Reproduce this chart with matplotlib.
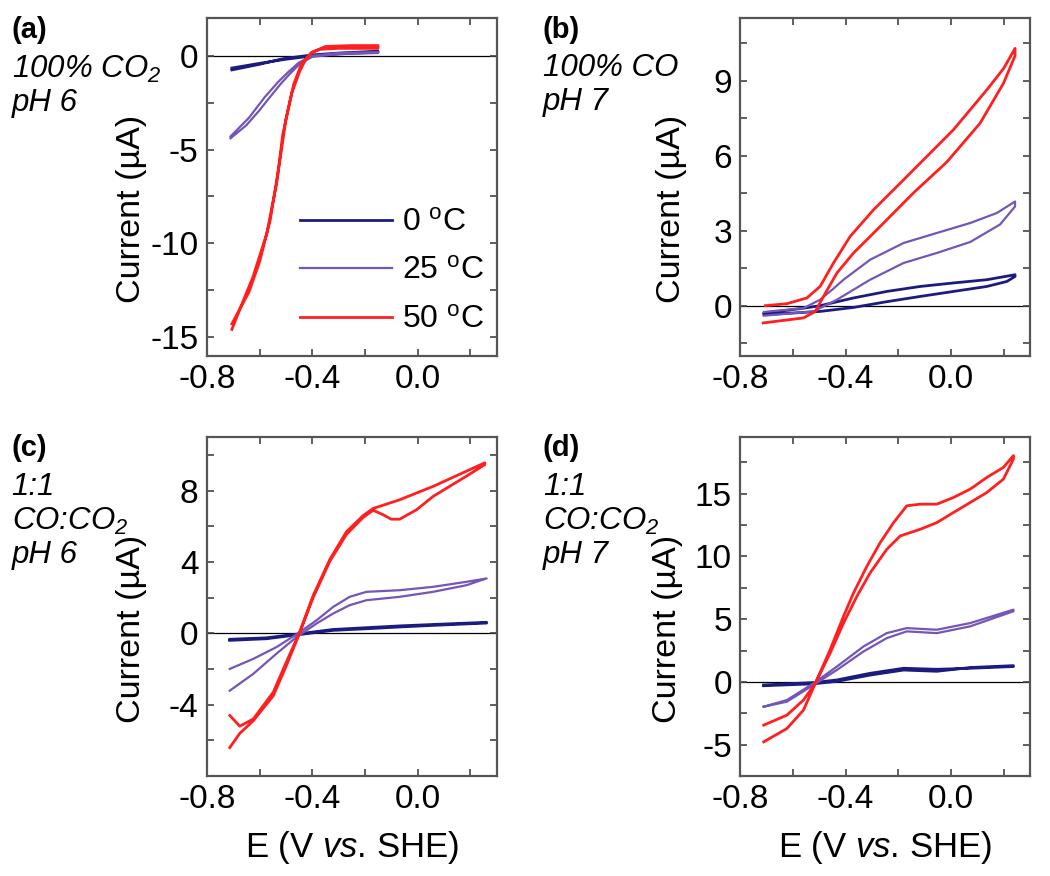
import matplotlib
matplotlib.use('Agg')
import matplotlib.pyplot as plt
from matplotlib.ticker import MultipleLocator

plt.rcParams['font.family'] = ['Liberation Sans', 'DejaVu Sans']
plt.rcParams['mathtext.fontset'] = 'custom'
plt.rcParams['mathtext.rm'] = 'Liberation Sans'
plt.rcParams['mathtext.it'] = 'Liberation Sans:italic'
plt.rcParams['mathtext.default'] = 'regular'

temps = ['0 $^{o}$C', '25 $^{o}$C', '50 $^{o}$C']
colors = ['#1c1c80', '#7455b8', '#ff1f1f']
widths = [2.0, 1.6, 2.0]

# (a) 100% CO2, pH 6 -- each curve: forward branch then reverse branch
a_e_0 = [-0.705, -0.6, -0.51, -0.4, -0.3, -0.15, -0.15, -0.3, -0.4, -0.51, -0.6, -0.705]
a_i_0 = [-0.75, -0.45, -0.15, 0.05, 0.15, 0.25, 0.2, 0.1, 0.0, -0.2, -0.4, -0.65]
a_e_25 = [-0.71, -0.65, -0.6, -0.572, -0.52, -0.485, -0.447, -0.4, -0.3, -0.15,
          -0.15, -0.3, -0.4, -0.45, -0.49, -0.53, -0.58, -0.64, -0.71]
a_i_25 = [-4.4, -3.7, -2.9, -2.4, -1.5, -0.96, -0.43, -0.05, 0.1, 0.15,
          0.2, 0.15, 0.0, -0.35, -0.85, -1.4, -2.2, -3.3, -4.3]
a_e_50 = [-0.705, -0.66, -0.625, -0.573, -0.535, -0.512, -0.478, -0.447, -0.425, -0.405, -0.37, -0.3,
          -0.2, -0.15,
          -0.15, -0.25, -0.35, -0.4, -0.44, -0.47, -0.5, -0.525, -0.56, -0.6, -0.64, -0.705]
a_i_50 = [-14.6, -13.0, -11.8, -9.5, -6.8, -4.2, -2.0, -0.8, -0.2, 0.15, 0.35, 0.4,
          0.4, 0.4,
          0.55, 0.55, 0.5, 0.2, -0.4, -1.5, -3.4, -5.8, -8.8, -11.0, -12.6, -14.3]

# (b) 100% CO, pH 7
b_e_0 = [-0.71, -0.56, -0.497, -0.37, -0.244, -0.117, 0.009, 0.136, 0.243,
         0.243, 0.212, 0.136, 0.009, -0.117, -0.244, -0.37, -0.497, -0.71]
b_i_0 = [-0.3, -0.1, 0.0, 0.31, 0.57, 0.77, 0.91, 1.04, 1.24,
         1.17, 0.97, 0.77, 0.57, 0.37, 0.16, -0.07, -0.23, -0.36]
b_e_25 = [-0.71, -0.56, -0.497, -0.45, -0.408, -0.307, -0.18, -0.054, 0.073, 0.174, 0.243,
          0.243, 0.186, 0.073, -0.054, -0.18, -0.307, -0.433, -0.522, -0.71]
b_i_25 = [-0.25, -0.1, 0.24, 0.65, 1.04, 1.84, 2.51, 2.91, 3.31, 3.71, 4.17,
          3.97, 3.25, 2.55, 2.11, 1.71, 1.04, 0.24, -0.23, -0.4]
b_e_50 = [-0.705, -0.623, -0.547, -0.497, -0.446, -0.383, -0.294, -0.18, -0.092, 0.009, 0.136,
          0.2, 0.243,
          0.243, 0.199, 0.11, -0.016, -0.143, -0.269, -0.37, -0.433, -0.484, -0.515, -0.56, -0.713]
b_i_50 = [0.0, 0.08, 0.31, 0.77, 1.71, 2.77, 3.84, 5.04, 5.97, 7.04, 8.64,
          9.5, 10.3,
          10.0, 8.9, 7.3, 5.75, 4.51, 3.17, 2.11, 1.31, 0.37, -0.23, -0.49, -0.69]

# (c) 1:1 CO:CO2, pH 6
c_e_0 = [-0.713, -0.574, -0.447, -0.321, -0.194, -0.068, 0.059, 0.262,
         0.262, 0.059, -0.068, -0.194, -0.321, -0.447, -0.574, -0.713]
c_i_0 = [-0.39, -0.3, -0.06, 0.17, 0.26, 0.36, 0.45, 0.58,
         0.62, 0.5, 0.42, 0.32, 0.22, -0.02, -0.25, -0.33]
c_e_25 = [-0.713, -0.624, -0.536, -0.46, -0.384, -0.321, -0.258, -0.194, -0.068, 0.059, 0.185, 0.262,
          0.262, 0.185, 0.059, -0.068, -0.194, -0.258, -0.321, -0.384, -0.46, -0.536, -0.624, -0.713]
c_i_25 = [-3.21, -2.27, -1.14, -0.21, 0.55, 1.11, 1.58, 1.86, 2.05, 2.33, 2.7, 3.08,
          3.08, 2.89, 2.61, 2.42, 2.33, 2.05, 1.48, 0.73, -0.06, -0.77, -1.43, -1.99]
c_e_50 = [-0.713, -0.675, -0.624, -0.548, -0.498, -0.447, -0.397, -0.333, -0.27, -0.207, -0.169,
          -0.131, -0.1, -0.068, -0.004, 0.059, 0.185, 0.255,
          0.255, 0.185, 0.059, -0.068, -0.169, -0.207, -0.27, -0.333, -0.397, -0.447, -0.498,
          -0.548, -0.624, -0.675, -0.713]
c_i_50 = [-6.4, -5.6, -4.9, -3.5, -1.8, 0.05, 2.0, 4.05, 5.55, 6.5, 6.9,
          6.65, 6.4, 6.4, 6.93, 7.68, 8.81, 9.46,
          9.56, 9.09, 8.24, 7.49, 7.0, 6.6, 5.7, 4.15, 2.1, 0.1, -1.6,
          -3.3, -4.8, -5.2, -4.6]

# (d) 1:1 CO:CO2, pH 7
d_e_0 = [-0.711, -0.522, -0.433, -0.307, -0.18, -0.054, 0.073, 0.237,
         0.237, 0.073, -0.054, -0.18, -0.307, -0.433, -0.522, -0.711]
d_i_0 = [-0.24, -0.05, 0.16, 0.69, 1.09, 1.01, 1.09, 1.23,
         1.3, 1.15, 0.85, 0.95, 0.55, 0.05, -0.15, -0.3]
d_e_25 = [-0.711, -0.623, -0.522, -0.433, -0.332, -0.244, -0.168, -0.054, 0.073, 0.237,
          0.237, 0.073, -0.054, -0.168, -0.244, -0.332, -0.433, -0.522, -0.623, -0.711]
d_i_25 = [-1.97, -1.57, -0.24, 0.96, 2.43, 3.49, 4.03, 3.89, 4.43, 5.63,
          5.76, 4.69, 4.16, 4.29, 3.89, 2.83, 1.23, -0.11, -1.44, -1.97]
d_e_50 = [-0.711, -0.623, -0.56, -0.515, -0.459, -0.408, -0.37, -0.319, -0.269, -0.218, -0.168,
          -0.117, -0.054, 0.009, 0.073, 0.136, 0.199, 0.237,
          0.237, 0.199, 0.136, 0.009, -0.054, -0.117, -0.193, -0.244, -0.307, -0.357, -0.408,
          -0.459, -0.515, -0.56, -0.623, -0.711]
d_i_50 = [-4.77, -3.71, -2.24, -0.11, 2.56, 5.23, 7.09, 9.23, 11.09, 12.69, 14.03,
          14.16, 14.16, 14.69, 15.36, 16.29, 17.09, 18.03,
          17.76, 16.16, 15.09, 13.49, 12.69, 12.16, 11.63, 10.56, 8.69, 6.83, 4.69,
          2.29, -0.11, -1.44, -2.64, -3.44]

panels = [
    ('(a)', '100% CO$_2$\npH 6', [(a_e_0, a_i_0), (a_e_25, a_i_25), (a_e_50, a_i_50)],
     (-16, 2), [0, -5, -10, -15], 2.5),
    ('(b)', '100% CO\npH 7', [(b_e_0, b_i_0), (b_e_25, b_i_25), (b_e_50, b_i_50)],
     (-2, 11.5), [0, 3, 6, 9], 1.5),
    ('(c)', '1:1\nCO:CO$_2$\npH 6', [(c_e_0, c_i_0), (c_e_25, c_i_25), (c_e_50, c_i_50)],
     (-8, 11), [-4, 0, 4, 8], 2),
    ('(d)', '1:1\nCO:CO$_2$\npH 7', [(d_e_0, d_i_0), (d_e_25, d_i_25), (d_e_50, d_i_50)],
     (-7.5, 19.5), [-5, 0, 5, 10, 15], 2.5),
]

fig = plt.figure(figsize=(10.5, 8.76), dpi=100)
boxes = [[0.197, 0.594, 0.276, 0.385], [0.705, 0.594, 0.276, 0.385],
         [0.197, 0.114, 0.276, 0.387], [0.705, 0.114, 0.276, 0.387]]
label_x = [0.011, 0.517, 0.011, 0.517]
label_y = [0.982, 0.982, 0.504, 0.504]
ylab_x = [-0.207, -0.183, -0.207, -0.197]

for k, (tag, note, curves, ylim, yt, ymin) in enumerate(panels):
    ax = fig.add_axes(boxes[k])
    ax.axhline(0, color='black', lw=0.9, zorder=1)
    for (e, i), c, lw, t in zip(curves, colors, widths, temps):
        ax.plot(e, i, color=c, lw=lw, label=t, zorder=2)
    ax.set_xlim(-0.8, 0.3)
    ax.set_ylim(*ylim)
    ax.set_xticks([-0.8, -0.4, 0.0])
    ax.set_xticklabels(['-0.8', '-0.4', '0.0'])
    ax.xaxis.set_minor_locator(MultipleLocator(0.2))
    ax.set_yticks(yt)
    ax.set_yticklabels([str(v) for v in yt])
    ax.yaxis.set_minor_locator(MultipleLocator(ymin))
    ax.tick_params(which='both', direction='in', top=True, right=True,
                   length=5, width=1.2, color='#444444', labelsize=24, pad=6)
    for s in ax.spines.values():
        s.set_color('#555555')
        s.set_linewidth(1.6)
    ax.set_ylabel('Current (\u00b5A)', fontsize=24.5)
    ax.yaxis.set_label_coords(ylab_x[k], 0.435)
    if k >= 2:
        ax.set_xlabel('E (V $\\mathit{vs}$. SHE)', fontsize=25, labelpad=10)
    fig.text(label_x[k], label_y[k], tag, fontsize=21, fontweight='bold', va='top', ha='left')
    fig.text(label_x[k], label_y[k] - 0.043, note, fontsize=22.5, style='italic',
             va='top', ha='left', linespacing=1.15)
    if k == 0:
        ax.legend(loc='center left', bbox_to_anchor=(0.32, 0.25), frameon=False,
                  fontsize=23, handlelength=2.9, handletextpad=0.3,
                  labelspacing=0.58, borderpad=0, borderaxespad=0)

fig.savefig('out.png', dpi=100)
